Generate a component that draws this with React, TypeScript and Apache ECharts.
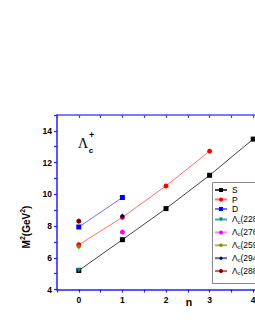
import React, { useEffect, useRef } from 'react';
import * as echarts from 'echarts';

// ---- data ----
const sN = [0, 1, 2, 3, 4];
const sValues = [5.2, 7.14, 9.1, 11.2, 13.48];
const pN = [0, 1, 2, 3];
const pValues = [6.82, 8.55, 10.53, 12.72];
const dN = [0, 1];
const dValues = [7.94, 9.8];
const stateNames = ['Λc(2286)', 'Λc(2765)', 'Λc(2595)', 'Λc(2940)', 'Λc(2880)'];
const stateN = [0, 1, 0, 1, 0];
const stateValues = [5.22, 7.62, 6.7, 8.63, 8.31];
const stateSymbols = ['triangle', 'circle', 'diamond', 'diamond', 'circle'];
const stateRotate = [180, 0, 0, 0, 0];
const stateColors = ['#008080', '#ff00ff', '#808000', '#000080', '#800000'];
const stateLineColors = ['#4da6a6', '#ff80ff', '#b3b34d', '#6666b3', '#b36666'];
const xTickLabels = [0, 1, 2, 3, 4];
const yTickLabels = [4, 6, 8, 10, 12, 14];

const FONT = 'Liberation Sans, Arial, sans-serif';

export default function App() {
  const ref = useRef<HTMLDivElement>(null);
  useEffect(() => {
    if (!ref.current) return;
    const chart = echarts.init(ref.current, undefined, { renderer: 'svg' });
    const pair = (xs: number[], ys: number[]) => xs.map((x, i) => [x, ys[i]]);
    const mainSeries = [
      { name: 'S', xs: sN, ys: sValues, color: '#000000', line: '#444444', symbol: 'rect' },
      { name: 'P', xs: pN, ys: pValues, color: '#ff0000', line: '#ff7070', symbol: 'circle' },
      { name: 'D', xs: dN, ys: dValues, color: '#0000ff', line: '#7070ff', symbol: 'rect' },
    ].map((s) => ({
      name: s.name,
      type: 'line',
      data: pair(s.xs, s.ys),
      symbol: s.symbol,
      symbolSize: 5,
      itemStyle: { color: s.color },
      lineStyle: { color: s.line, width: 1 },
      z: 2,
    }));
    const stateSeries = stateNames.map((name, i) => ({
      name,
      type: 'line',
      data: [[stateN[i], stateValues[i]]],
      symbol: stateSymbols[i],
      symbolRotate: stateRotate[i],
      symbolSize: 5,
      itemStyle: { color: stateColors[i] },
      lineStyle: { color: stateLineColors[i], width: 1 },
      z: 3,
    }));
    const richLegend = {
      a: { fontSize: 8.5, fontFamily: FONT, color: '#000', lineHeight: 10, verticalAlign: 'top' },
      s: { fontSize: 5.5, fontFamily: FONT, color: '#000', lineHeight: 6, verticalAlign: 'bottom' },
    };
    chart.setOption({
      animation: false,
      grid: { left: 57, top: 115, width: 218, height: 174.5, containLabel: false, outerBoundsMode: 'none' },
      xAxis: [
        {
          type: 'value',
          min: -0.5,
          max: 4.5,
          interval: 0.5,
          axisLine: { show: true, onZero: false, lineStyle: { color: '#2020ff', width: 1.5 } },
          axisTick: { show: true, length: 3, lineStyle: { color: '#2020ff', width: 1.2 } },
          axisLabel: {
            margin: 6,
            fontSize: 8.5,
            fontWeight: 'bold',
            fontFamily: FONT,
            color: '#000',
            formatter: (v: number) => (xTickLabels.includes(v) ? String(v) : ''),
          },
          splitLine: { show: false },
        },
        {
          type: 'value',
          position: 'top',
          min: -0.5,
          max: 4.5,
          interval: 0.5,
          axisLine: { show: true, onZero: false, lineStyle: { color: '#7b7bff', width: 2 } },
          axisTick: { show: true, inside: true, length: 3, lineStyle: { color: '#4040ff', width: 1.2 } },
          axisLabel: { show: false },
          splitLine: { show: false },
        },
      ],
      yAxis: {
        type: 'value',
        position: 'left',
        min: 4,
        max: 15,
        interval: 1,
        axisLine: { show: true, onZero: false, lineStyle: { color: '#2020ff', width: 1.5 } },
        axisTick: { show: true, length: 3, lineStyle: { color: '#2020ff', width: 1.2 } },
        axisLabel: {
          margin: 5,
          fontSize: 8.5,
          fontWeight: 'bold',
          fontFamily: FONT,
          color: '#000',
          formatter: (v: number) => (yTickLabels.includes(v) ? String(v) : ''),
        },
        splitLine: { show: false },
      },
      legend: [
        {
          orient: 'vertical',
          left: 214,
          top: 185.5,
          padding: 0,
          itemGap: 0.5,
          itemWidth: 12,
          itemHeight: 5,
          data: ['S', 'P', 'D'],
          textStyle: { fontSize: 8.5, fontFamily: FONT, color: '#000', lineHeight: 9 },
        },
        {
          orient: 'vertical',
          left: 214,
          top: 214.5,
          padding: 0,
          itemGap: 2.9,
          itemWidth: 12,
          itemHeight: 5,
          data: stateNames,
          formatter: (name: string) => `{a|Λ}{s|c}{a|${name.slice(2)}}`,
          textStyle: { fontSize: 8.5, fontFamily: FONT, color: '#000', rich: richLegend },
        },
      ],
      graphic: [
        {
          type: 'rect',
          shape: { x: 212.5, y: 182.5, width: 70, height: 101 },
          style: { fill: 'none', stroke: '#888888', lineWidth: 1 },
          z: 1,
        },
        {
          type: 'text',
          x: 83,
          y: 143,
          style: {
            text: 'Λ',
            fontSize: 14,
            fontFamily: 'Liberation Serif, Times New Roman, serif',
            fill: '#000',
            align: 'center',
            verticalAlign: 'middle',
          },
        },
        {
          type: 'text',
          x: 91,
          y: 150,
          style: { text: 'c', fontSize: 8, fontWeight: 'bold', fontFamily: FONT, fill: '#000', align: 'center', verticalAlign: 'middle' },
        },
        {
          type: 'text',
          x: 91.5,
          y: 134.5,
          style: { text: '+', fontSize: 9, fontWeight: 'bold', fontFamily: FONT, fill: '#000', align: 'center', verticalAlign: 'middle' },
        },
        {
          type: 'text',
          x: 189,
          y: 301.5,
          style: { text: 'n', fontSize: 10.5, fontWeight: 'bold', fontFamily: FONT, fill: '#000', align: 'center', verticalAlign: 'middle' },
        },
        {
          type: 'text',
          x: 25,
          y: 227,
          rotation: Math.PI / 2,
          style: {
            text: '{b|M}{p|2}{b|(GeV}{p|2}{b|)}',
            align: 'center',
            verticalAlign: 'middle',
            rich: {
              b: { fontSize: 10, fontWeight: 'bold', fontFamily: FONT, fill: '#000', lineHeight: 13, verticalAlign: 'bottom' },
              p: { fontSize: 7, fontWeight: 'bold', fontFamily: FONT, fill: '#000', lineHeight: 8, verticalAlign: 'top' },
            },
          },
        },
      ],
      series: [...mainSeries, ...stateSeries],
    });
    return () => chart.dispose();
  }, []);
  return (
    <div
      ref={ref}
      style={{ position: 'absolute', left: 0, top: 0, width: 255, height: 330, background: '#fff' }}
    />
  );
}
